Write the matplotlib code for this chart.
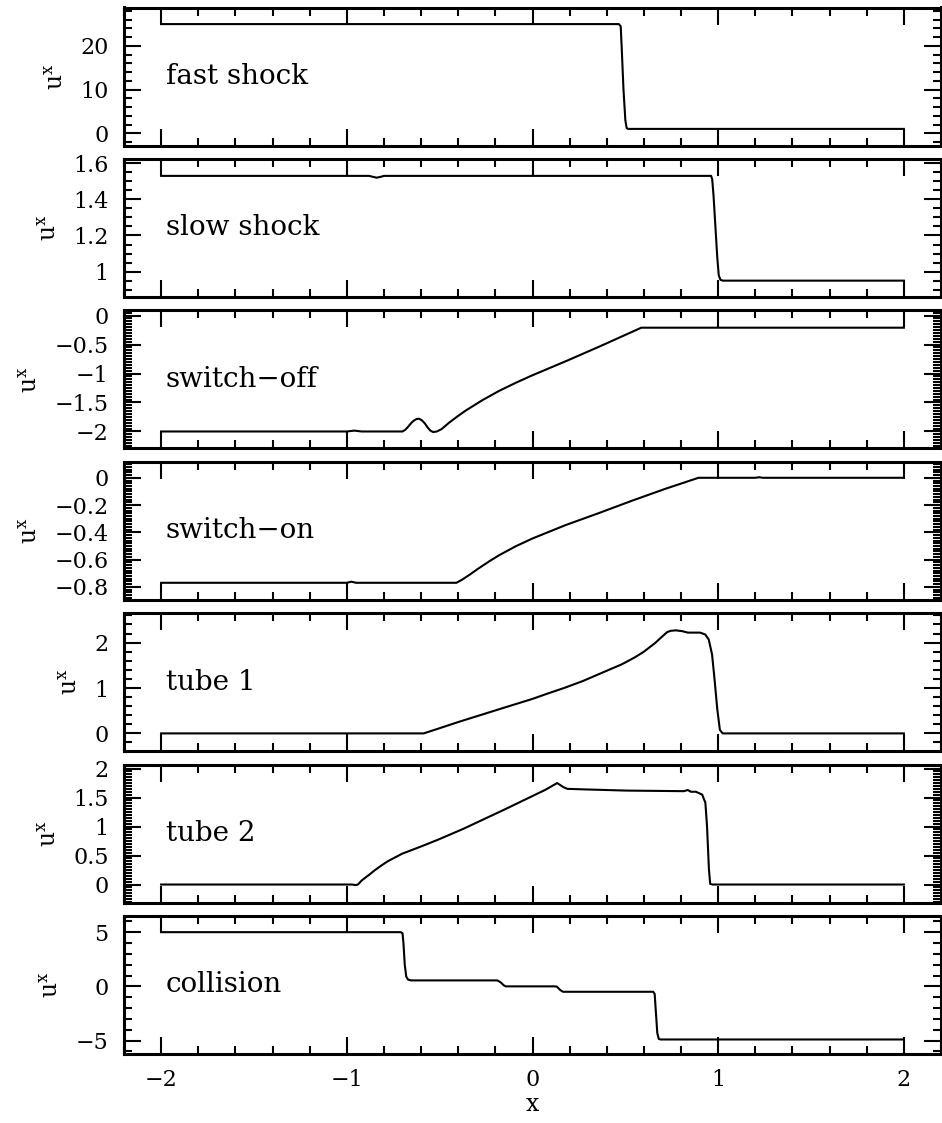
import numpy as np
import matplotlib
matplotlib.use("Agg")
import matplotlib.pyplot as plt
from matplotlib.ticker import MultipleLocator, FuncFormatter

plt.rcParams['font.family'] = 'DejaVu Serif'
plt.rcParams['mathtext.fontset'] = 'dejavuserif'

# --- data (x, u^x) ---
fast_x = [-2.0, 0.465, 0.475, 0.480, 0.490, 0.500, 0.507, 0.515, 2.0]
fast_y = [25.0, 25.0, 24.5, 20.0, 10.0, 3.0, 1.2, 1.0, 1.0]

slow_x = [-2.0, -0.88, -0.86, -0.84, -0.82, -0.80, 0.962, 0.968, 0.975, 0.985,
          0.995, 1.003, 1.012, 1.025, 2.0]
slow_y = [1.53, 1.53, 1.525, 1.52, 1.524, 1.53, 1.53, 1.51, 1.42, 1.25,
          1.08, 0.98, 0.955, 0.95, 0.95]

off_x = [-2.0, -1.0, -0.96, -0.92, -0.70, -0.685, -0.67, -0.655, -0.64, -0.625,
         -0.61, -0.595, -0.58, -0.565, -0.55, -0.535, -0.515, -0.49, -0.45, -0.40,
         -0.36, -0.27, -0.18, -0.09, 0.0, 0.178, 0.357, 0.586, 2.0]
off_y = [-2.0, -2.0, -1.985, -2.0, -2.0, -1.97, -1.92, -1.86, -1.815, -1.785,
         -1.78, -1.81, -1.86, -1.93, -1.985, -2.01, -2.0, -1.96, -1.85, -1.73,
         -1.64, -1.46, -1.30, -1.16, -1.03, -0.79, -0.54, -0.21, -0.21]

on_x = [-2.0, -1.0, -0.976, -0.95, -0.41, -0.38, -0.34, -0.29, -0.23, -0.18,
        -0.09, 0.0, 0.178, 0.357, 0.536, 0.715, 0.894, 1.2, 1.22, 1.24, 2.0]
on_y = [-0.77, -0.77, -0.762, -0.77, -0.77, -0.748, -0.712, -0.664, -0.61, -0.568,
        -0.502, -0.445, -0.347, -0.259, -0.168, -0.081, 0.0, 0.0, 0.004, 0.0, 0.0]

t1_x = [-2.0, -0.586, -0.5, -0.4, -0.158, 0.0, 0.083, 0.17, 0.269, 0.4,
        0.48, 0.549, 0.6, 0.66, 0.70, 0.725, 0.744, 0.772, 0.809, 0.837,
        0.902, 0.930, 0.949, 0.967, 0.980, 0.995, 1.009, 1.024, 2.0]
t1_y = [0.0, 0.0, 0.115, 0.25, 0.56, 0.76, 0.88, 1.0, 1.15, 1.38,
        1.52, 1.67, 1.8, 1.99, 2.14, 2.23, 2.26, 2.27, 2.25, 2.22,
        2.22, 2.18, 2.07, 1.74, 1.21, 0.54, 0.08, 0.0, 0.0]

t2_x = [-2.0, -0.97, -0.955, -0.94, -0.92, -0.879, -0.85, -0.813, -0.78, -0.703,
        -0.65, -0.593, -0.5, -0.373, -0.153, 0.067, 0.133, 0.166, 0.188, 0.286,
        0.507, 0.815, 0.836, 0.853, 0.88, 0.914, 0.931, 0.94, 0.95, 0.957,
        0.971, 2.0]
t2_y = [0.0, 0.0, -0.01, 0.0, 0.07, 0.17, 0.245, 0.33, 0.40, 0.53,
        0.595, 0.665, 0.785, 0.96, 1.29, 1.63, 1.75, 1.68, 1.65, 1.64,
        1.62, 1.61, 1.63, 1.60, 1.60, 1.55, 1.41, 1.0, 0.27, 0.01,
        0.0, 0.0]

col_x = [-2.0, -0.71, -0.70, -0.695, -0.688, -0.68, -0.67, -0.655, -0.6, -0.2,
         -0.188, -0.17, -0.155, -0.144, 0.12, 0.131, 0.15, 0.165, 0.65, 0.658,
         0.665, 0.672, 0.68, 0.69, 2.0]
col_y = [5.0, 5.0, 4.9, 4.0, 2.0, 0.9, 0.62, 0.55, 0.55, 0.55,
         0.54, 0.35, 0.1, 0.0, 0.0, -0.02, -0.35, -0.5, -0.5, -0.7,
         -2.5, -4.3, -4.85, -4.9, -4.9]

names = ['fast shock', 'slow shock', 'switch\u2212off', 'switch\u2212on',
         'tube 1', 'tube 2', 'collision']
xs = [fast_x, slow_x, off_x, on_x, t1_x, t2_x, col_x]
ys = [fast_y, slow_y, off_y, on_y, t1_y, t2_y, col_y]
ylims = [(-2.8, 28.8), (0.86, 1.624), (-2.29, 0.09), (-0.894, 0.118),
         (-0.39, 2.65), (-0.31, 2.07), (-6.23, 6.5)]
majors = [10, 0.2, 0.5, 0.2, 1, 0.5, 5]
minors = [2, 0.05, 0.05, 0.02, 0.2, 0.05, 1]


def fmt(v, pos):
    v = round(v, 6)
    if v == 0:
        v = 0.0
    s = f"{v:g}"
    return s.replace('-', '\u2212')


W, H = 942, 1123
fig = plt.figure(figsize=(W / 100, H / 100), dpi=100)

left, right = 124, 941
top0, pitch, hgt = 7.5, 151.4, 138

for i in range(7):
    top = top0 + pitch * i
    ax = fig.add_axes([left / W, 1 - (top + hgt) / H, (right - left) / W, hgt / H])
    ax.plot(xs[i], ys[i], color='black', lw=1.5)
    ax.set_xlim(-2.2, 2.2)
    ax.set_ylim(*ylims[i])
    ax.xaxis.set_major_locator(MultipleLocator(1))
    ax.xaxis.set_minor_locator(MultipleLocator(0.2))
    ax.yaxis.set_major_locator(MultipleLocator(majors[i]))
    ax.yaxis.set_minor_locator(MultipleLocator(minors[i]))
    ax.yaxis.set_major_formatter(FuncFormatter(fmt))
    ax.xaxis.set_major_formatter(FuncFormatter(fmt))
    ax.tick_params(which='both', direction='in', top=True, right=True, width=1.5)
    ax.tick_params(which='major', length=12, labelsize=16, pad=11)
    ax.tick_params(which='minor', length=6)
    for sp in ax.spines.values():
        sp.set_linewidth(2.2)
    if i < 6:
        ax.tick_params(labelbottom=False)
    else:
        ax.set_xlabel('x', fontsize=17, labelpad=1)
    ax.set_ylabel('$\\mathrm{u^x}$', fontsize=17, labelpad=9)
    ax.text(0.051, 0.5, names[i], transform=ax.transAxes, fontsize=20,
            va='center', ha='left')

fig.savefig('out.png', dpi=100)
